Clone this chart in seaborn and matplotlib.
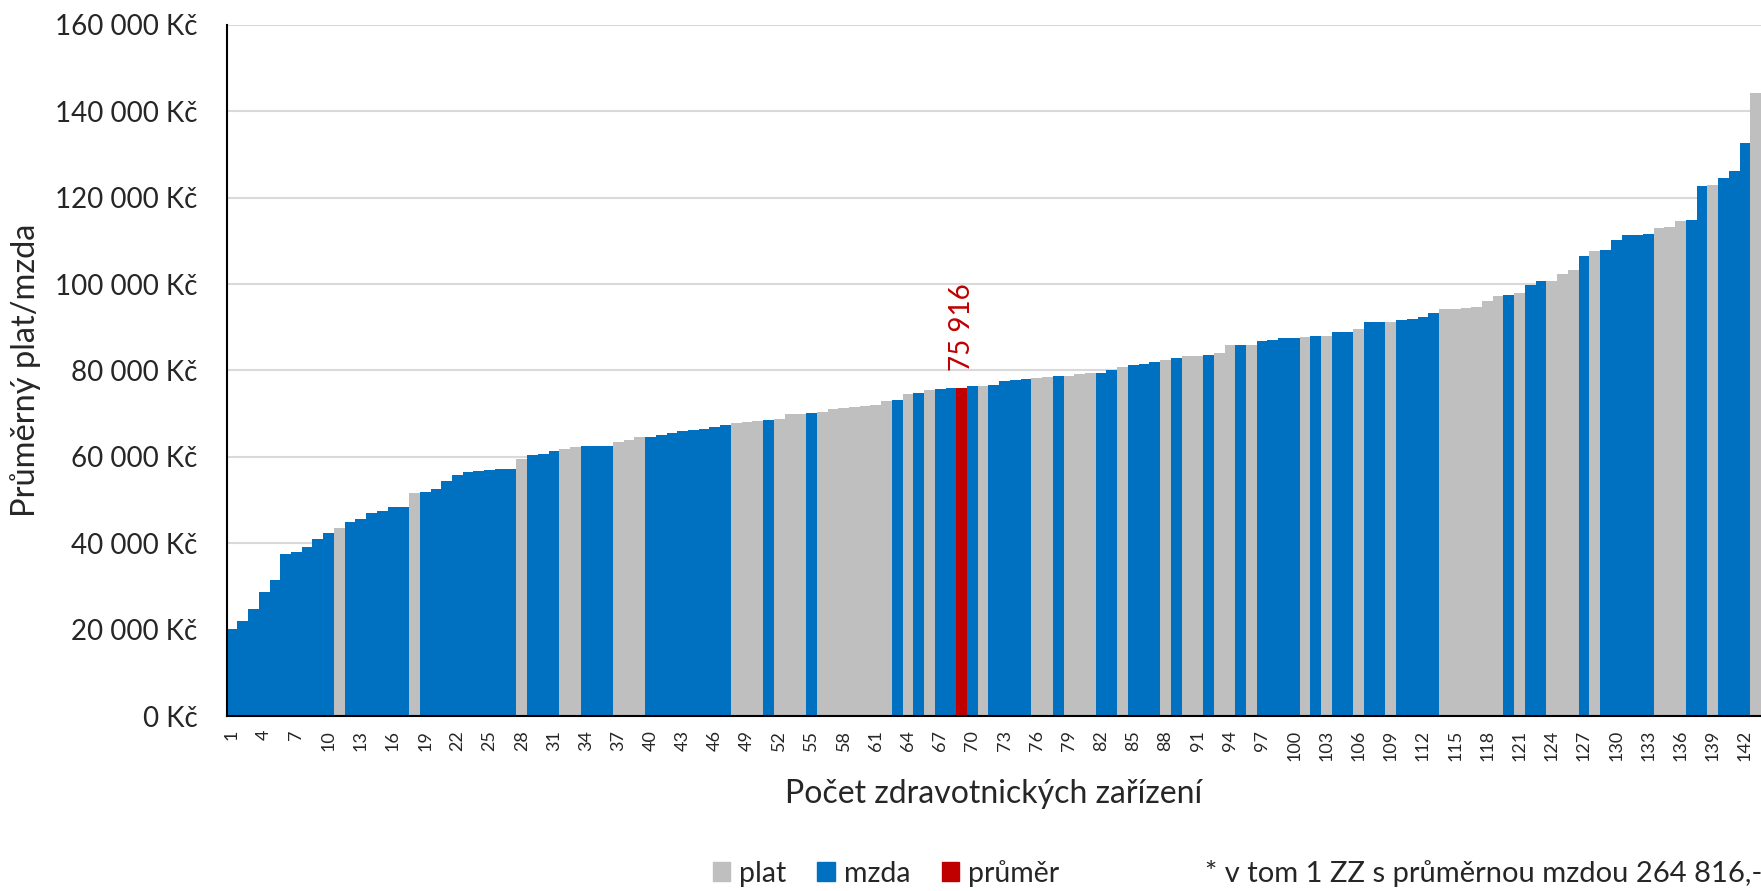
# Průměrný plat/mzda ve zdravotnických zařízeních, seřazeno vzestupně

import numpy as np
import pandas as pd
import matplotlib.pyplot as plt
import seaborn as sns
from matplotlib.patches import Patch
from matplotlib.ticker import FuncFormatter

# Hodnoty jednotlivých zařízení (Kč)
hodnoty = [
    20100, 21900, 24700, 28800, 31600, 37500, 37900, 39100, 41000, 42400,
    43600, 45000, 45600, 47100, 47500, 48400, 48450, 51600, 51900, 52600,
    54500, 55800, 56400, 56700, 57000, 57100, 57300, 59400, 60400, 60600,
    61300, 61800, 62300, 62400, 62500, 62600, 63500, 63900, 64500, 64600,
    65100, 65600, 65950, 66200, 66400, 67000, 67400, 67800, 68000, 68200,
    68500, 68800, 69900, 70000, 70250, 70350, 71000, 71200, 71600, 71750,
    71900, 72900, 73200, 74600, 74850, 75500, 75750, 75850, 75916, 76300,
    76500, 76750, 77650, 77900, 78000, 78300, 78400, 78650, 78700, 79300,
    79400, 79500, 80150, 80700, 81250, 81500, 82050, 82350, 82800, 83400,
    83450, 83550, 84100, 85800, 85850, 85900, 86800, 87000, 87450, 87550,
    87650, 87900, 87950, 88900, 89000, 89600, 91150, 91200, 91300, 91800,
    92000, 92450, 93200, 94200, 94300, 94500, 94750, 96200, 97250, 97400,
    97900, 99900, 100650, 100750, 102400, 103150, 106550, 107650, 107850, 110250,
    111350, 111450, 111650, 113100, 113300, 114650, 114950, 122700, 122950, 124550,
    126200, 132750, 144300,
]

# m = mzda, p = plat, r = průměr
typy = [
    'm', 'm', 'm', 'm', 'm', 'm', 'm', 'm', 'm', 'm',
    'p', 'm', 'm', 'm', 'm', 'm', 'm', 'p', 'm', 'm',
    'm', 'm', 'm', 'm', 'm', 'm', 'm', 'p', 'm', 'm',
    'm', 'p', 'p', 'm', 'm', 'm', 'p', 'p', 'p', 'm',
    'm', 'm', 'm', 'm', 'm', 'm', 'm', 'p', 'p', 'p',
    'm', 'p', 'p', 'p', 'm', 'p', 'p', 'p', 'p', 'p',
    'p', 'p', 'm', 'p', 'm', 'p', 'm', 'm', 'r', 'm',
    'p', 'm', 'm', 'm', 'm', 'p', 'p', 'm', 'p', 'p',
    'p', 'm', 'm', 'p', 'm', 'm', 'm', 'p', 'm', 'p',
    'p', 'm', 'p', 'p', 'm', 'p', 'm', 'm', 'm', 'm',
    'p', 'm', 'p', 'm', 'm', 'p', 'm', 'm', 'p', 'm',
    'm', 'm', 'm', 'p', 'p', 'p', 'p', 'p', 'p', 'm',
    'p', 'm', 'm', 'p', 'p', 'p', 'm', 'p', 'm', 'm',
    'm', 'm', 'm', 'p', 'p', 'p', 'm', 'm', 'p', 'm',
    'm', 'm', 'p',
]

nazvy = {'m': 'mzda', 'p': 'plat', 'r': 'průměr'}
barvy = {'plat': '#BFBFBF', 'mzda': '#0070C0', 'průměr': '#C00000'}
prumer = 75916

df = pd.DataFrame({
    'poradi': [str(i + 1) for i in range(len(hodnoty))],
    'hodnota': hodnoty,
    'typ': [nazvy[t] for t in typy],
})

sns.set_style('white')
plt.rcParams['font.family'] = ['Lato', 'DejaVu Sans']

fig, ax = plt.subplots(figsize=(17.61, 8.91), dpi=100)
fig.subplots_adjust(left=0.1287, right=1.0, top=0.972, bottom=0.1964)

sns.barplot(data=df, x='poradi', y='hodnota', hue='typ', palette=barvy,
            dodge=False, width=1.0, saturation=1, linewidth=0,
            legend=False, ax=ax)

ax.set_xlim(-0.5, len(hodnoty) - 0.5)
ax.set_ylim(0, 160000)
ax.set_yticks(range(0, 160001, 20000))
ax.yaxis.set_major_formatter(FuncFormatter(lambda v, p: f'{int(v):,}'.replace(',', ' ') + ' Kč'))
ax.tick_params(axis='y', labelsize=20, length=7, width=1.3, color='black', pad=14)

pozice = list(range(0, len(hodnoty), 3))
ax.set_xticks(pozice)
ax.set_xticklabels([str(i + 1) for i in pozice], rotation=90)
ax.tick_params(axis='x', which='major', labelsize=13, length=0, pad=10)
ax.set_xticks(np.arange(-0.5, len(hodnoty), 1), minor=True)
ax.tick_params(axis='x', which='minor', length=4.5, width=1.3, color='black')

ax.yaxis.grid(True, color='#D9D9D9', linewidth=1.5)
ax.set_axisbelow(True)
for s in ['top', 'right']:
    ax.spines[s].set_visible(False)
for s in ['left', 'bottom']:
    ax.spines[s].set_color('black')
    ax.spines[s].set_linewidth(1.5)

ax.set_xlabel('Počet zdravotnických zařízení', fontsize=23)
ax.xaxis.label.set_va('center')
ax.xaxis.set_label_coords(0.5, -0.113)
ax.set_ylabel('Průměrný plat/mzda', fontsize=23.5)
ax.yaxis.label.set_va('center')
ax.yaxis.set_label_coords(-0.131, 0.5)

# popisek průměru nad červeným sloupcem
idx = typy.index('r')
ax.annotate(f'{prumer:,}'.replace(',', ' '), xy=(idx, prumer), xytext=(0, 12),
            textcoords='offset points', rotation=90, ha='center', va='bottom',
            color='#C00000', fontsize=20)

handles = [Patch(color=barvy[k], label=k) for k in ['plat', 'mzda', 'průměr']]
fig.legend(handles=handles, loc='center', bbox_to_anchor=(0.503, 0.02), ncol=3,
           frameon=False, fontsize=20.5, handlelength=0.62, handleheight=0.62,
           handletextpad=0.3, columnspacing=1.1)
fig.text(0.684, 0.02, '* v tom 1 ZZ s průměrnou mzdou 264 816,-', fontsize=21,
         va='center', ha='left')

plt.savefig('out.png', dpi=100)
